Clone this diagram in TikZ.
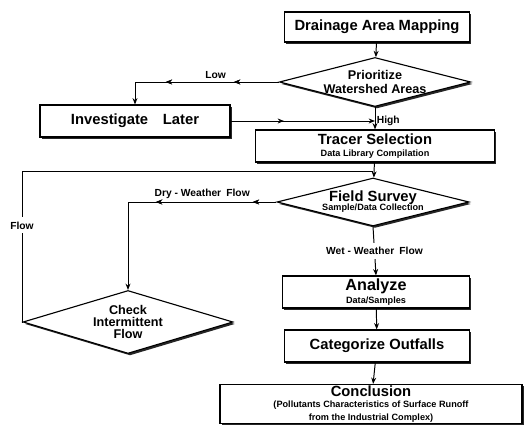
\documentclass[tikz,border=0pt]{standalone}
\usepackage{fontspec}
\setmainfont{Liberation Sans}
\usetikzlibrary{shapes.geometric, arrows.meta, decorations.markings, shadows, positioning}
\def\pxl{0.025cm}
\tikzset{
    box/.style  = {draw, line width=0.8pt, fill=white, align=center, inner sep=0pt, font=\bfseries,
                   drop shadow={shadow xshift=1.4pt, shadow yshift=-1.4pt, fill=black!85, opacity=1}},
    dia/.style  = {box, diamond, font=\bfseries\fontsize{9}{9.5}\selectfont},
    lbl/.style  = {font=\bfseries\fontsize{7.3}{8}\selectfont, inner sep=1pt},
    flow/.style = {line width=0.7pt},
    tip/.style  = {-{Stealth[length=4.5pt,width=3.5pt]}},
    midtip/.style = {postaction={decorate}, decoration={markings,
                     mark=at position #1 with {\arrow{Stealth[length=4.5pt,width=3.5pt]}}}}
}
\newcommand{\headtxt}[1]{{\bfseries\fontsize{10.5}{11}\selectfont #1}}
\newcommand{\subtxt}[1]{{\bfseries\fontsize{6.5}{7}\selectfont #1}}
\begin{document}
\begin{tikzpicture}[x=\pxl, y=-\pxl]
    \useasboundingbox (0,0) rectangle (525,425);
    % Boxes and decisions
    \node[box, minimum width=185*\pxl, minimum height=30*\pxl] (drain) at (377,27) {\headtxt{Drainage Area Mapping}};
    \node[dia, minimum width=190*\pxl, minimum height=48*\pxl, aspect=3.9] (prio) at (375,82)
        {Prioritize\\Watershed Areas};
    \node[box, minimum width=190*\pxl, minimum height=32*\pxl] (inv) at (135,121) {\headtxt{Investigate\quad Later}};
    \node[box, minimum width=239*\pxl, minimum height=32*\pxl] (tracer) at (375,146)
        {\headtxt{Tracer Selection}\\[-3pt]\subtxt{Data Library Compilation}};
    \node[dia, minimum width=192*\pxl, minimum height=48*\pxl, aspect=4] (field) at (373,202)
        {\headtxt{Field Survey}\\[-3pt]\subtxt{Sample/Data Collection}};
    \node[dia, minimum width=210*\pxl, minimum height=63*\pxl, aspect=3.3] (check) at (128,322)
        {Check\\[-1pt]Intermittent\\[-1pt]Flow};
    \node[box, minimum width=187*\pxl, minimum height=32*\pxl] (analyze) at (376,292)
        {{\bfseries\fontsize{11.5}{12}\selectfont Analyze}\\[-3pt]\subtxt{Data/Samples}};
    \node[box, minimum width=185*\pxl, minimum height=32*\pxl] (cat) at (377,346) {\headtxt{Categorize Outfalls}};
    \node[box, minimum width=302*\pxl, minimum height=39*\pxl] (concl) at (371,404)
        {\headtxt{Conclusion}\\[-4.5pt]\subtxt{(Pollutants Characteristics of Surface Runoff}\\[-3pt]\subtxt{from the Industrial Complex)}};
    % Main line
    \draw[flow, tip] (drain) -- (prio);
    \draw[flow, tip] (prio) -- (tracer);
    \draw[flow, tip] (tracer) -- (field);
    \draw[flow, tip] (analyze) -- (cat);
    \draw[flow, tip] (cat) -- (concl);
    % Low / High
    \draw[flow, tip, midtip=0.27, midtip=0.68] (prio.west) -| node[lbl, pos=0.22, above=1pt] {Low} (inv.north);
    \draw[flow, tip, midtip=0.37] (inv.east) -- (inv.east -| tracer.north) node[lbl, right] {High};
    % Dry / Wet weather
    \draw[flow, tip, midtip=0.1, midtip=0.51] (field.west) -| node[lbl, pos=0.25, above=1pt] {Dry - Weather\enspace Flow} (check.north);
    \draw[flow, tip] (field.south) -- node[lbl, fill=white, inner sep=3pt] {Wet - Weather\enspace Flow} (analyze.north);
    % Flow loop
    \coordinate (loopc) at (22,171);
    \draw[flow] (check.west) -- (check.west -| loopc) -- node[lbl, pos=0.64, fill=white, inner sep=3pt] {Flow} (loopc)
        -- (loopc -| field.north);
\end{tikzpicture}
\end{document}
